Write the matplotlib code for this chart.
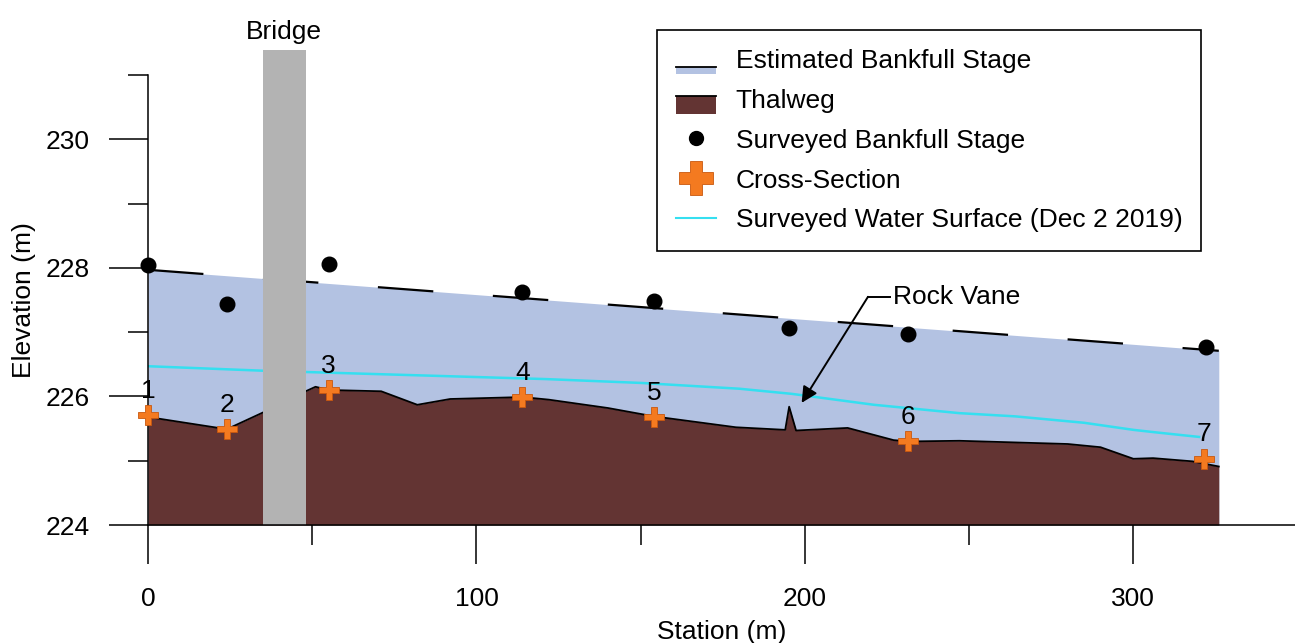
import matplotlib
matplotlib.use("Agg")
import matplotlib.pyplot as plt
from matplotlib.legend_handler import HandlerBase
from matplotlib.lines import Line2D
from matplotlib.patches import Patch, Rectangle

plt.rcParams["font.family"] = ["Liberation Sans", "DejaVu Sans"]
plt.rcParams["lines.scale_dashes"] = False

# longitudinal profile data (station in m, elevation in m)
BANKFULL_STATION = [0, 326]
BANKFULL_ELEV = [227.97, 226.71]

THALWEG_STATION = [0, 24, 35, 48, 51, 55, 71, 82, 92, 114, 122, 140, 154, 179,
                   194, 195.2, 197.3, 213, 227, 232, 247, 280, 290, 300, 306,
                   318, 326]
THALWEG_ELEV = [225.68, 225.49, 225.75, 226.08, 226.15, 226.10, 226.08, 225.87,
                225.96, 225.99, 225.95, 225.82, 225.69, 225.52, 225.48, 225.84,
                225.47, 225.51, 225.32, 225.30, 225.31, 225.26, 225.21, 225.03,
                225.04, 224.99, 224.91]

WATER_STATION = [0, 35, 48, 121, 150, 180, 196, 221, 247, 264, 285, 300, 307, 320]
WATER_ELEV = [226.47, 226.40, 226.38, 226.27, 226.21, 226.12, 226.04, 225.87,
              225.74, 225.69, 225.59, 225.48, 225.44, 225.37]

SURVEY_STATION = [0, 24, 55, 114, 154, 195, 231.5, 322]
SURVEY_ELEV = [228.04, 227.44, 228.06, 227.62, 227.48, 227.06, 226.97, 226.77]

XS_STATION = [0, 24, 55, 114, 154, 231.5, 321.5]
XS_ELEV = [225.71, 225.49, 226.10, 225.99, 225.68, 225.30, 225.03]
XS_LABELS = ["1", "2", "3", "4", "5", "6", "7"]

BRIDGE_START, BRIDGE_END, BRIDGE_TOP = 35, 48, 231.39
ROCK_VANE_STATION = 199.0
ROCK_VANE_ELEV = 225.90

BLUE = "#b3c2e2"
BROWN = "#633433"
CYAN = "#35dff0"
ORANGE = "#f47a20"
GRAY = "#b3b3b3"
FS = 19


class TopLineHandler(HandlerBase):
    """Filled box with a black line along its top edge."""

    def __init__(self, frac):
        super().__init__()
        self.frac = frac

    def create_artists(self, legend, orig_handle, xdescent, ydescent,
                       width, height, fontsize, trans):
        y0 = -ydescent - 0.35 * height
        h = height * self.frac
        rect = Rectangle((-xdescent, y0), width, h,
                         facecolor=orig_handle.get_facecolor(),
                         edgecolor="none", transform=trans)
        line = Line2D([-xdescent, -xdescent + width], [y0 + h, y0 + h],
                      color="black", lw=1.3, transform=trans)
        return [rect, line]


fig = plt.figure(figsize=(12.95, 6.43), dpi=100)
ax = fig.add_axes([148 / 1295, 118 / 643, 1147 / 1295, 450 / 643])

ax.fill_between(BANKFULL_STATION, BANKFULL_ELEV, 224, color=BLUE, lw=0, zorder=1)
ax.fill_between(THALWEG_STATION, THALWEG_ELEV, 224, color=BROWN, lw=0, zorder=1.2)
ax.plot(THALWEG_STATION, THALWEG_ELEV, color="black", lw=1.3, zorder=1.3)
ax.plot(WATER_STATION, WATER_ELEV, color=CYAN, lw=1.8, zorder=1.4)
ax.plot(BANKFULL_STATION, BANKFULL_ELEV, color="black", lw=1.6,
        dashes=(40, 43), dash_capstyle="butt", zorder=1.5)

ax.add_patch(Rectangle((BRIDGE_START, 224), BRIDGE_END - BRIDGE_START,
                       BRIDGE_TOP - 224, facecolor=GRAY, edgecolor="none",
                       zorder=2, clip_on=False))
ax.text((BRIDGE_START + BRIDGE_END) / 2, BRIDGE_TOP + 0.28, "Bridge",
        ha="center", va="center", fontsize=FS, clip_on=False)

ax.plot(SURVEY_STATION, SURVEY_ELEV, "o", color="black", ms=10.5, zorder=3,
        clip_on=False)
ax.plot(XS_STATION, XS_ELEV, "P", color=ORANGE, mec="#c8580f", mew=0.6,
        ms=14, zorder=3, clip_on=False)
for st, el, lab in zip(XS_STATION, XS_ELEV, XS_LABELS):
    ax.annotate(lab, (st, el), xytext=(0, 17.5), textcoords="offset points",
                ha="center", va="center", fontsize=FS, zorder=4)

# rock vane callout: text, short leader, then arrow down to the spike
ax.text(226.8, 227.55, "Rock Vane", ha="left", va="center", fontsize=FS)
ax.plot([219.2, 226.0], [227.55, 227.55], color="black", lw=1.4, zorder=4)
ax.annotate("", xy=(ROCK_VANE_STATION, ROCK_VANE_ELEV), xytext=(219.2, 227.55),
            arrowprops=dict(arrowstyle="-|>", color="black", lw=1.4,
                            mutation_scale=24, shrinkA=0, shrinkB=0),
            zorder=4)

ax.set_xlim(0, 349.2)
ax.set_ylim(224, 231)
ax.set_xticks([0, 100, 200, 300])
ax.set_xticks([50, 150, 250], minor=True)
ax.set_yticks([224, 226, 228, 230])
ax.set_yticks([225, 227, 229, 231], minor=True)
ax.tick_params(which="major", length=28, width=1.1, labelsize=FS)
ax.tick_params(which="minor", length=14.4, width=1.1)
ax.tick_params(axis="y", which="major", pad=14)
ax.tick_params(axis="x", which="major", pad=17)
for side in ("top", "right"):
    ax.spines[side].set_visible(False)
for side in ("left", "bottom"):
    ax.spines[side].set_linewidth(1.1)

ax.set_xlabel("Station (m)", fontsize=FS, va="top")
ax.xaxis.set_label_coords(0.5, -0.211)
ax.set_ylabel("Elevation (m)", fontsize=FS)
ax.yaxis.set_label_coords(-0.0976, 0.5)

h_bank = Patch(facecolor=BLUE)
h_thal = Patch(facecolor=BROWN)
h_dot = Line2D([], [], ls="none", marker="o", color="black", ms=10)
h_xs = Line2D([], [], ls="none", marker="P", color=ORANGE, mec="#c8580f",
              mew=0.6, ms=25)
h_ws = Line2D([], [], color=CYAN, lw=1.5)
leg = ax.legend(
    [h_bank, h_thal, h_dot, h_xs, h_ws],
    ["Estimated Bankfull Stage", "Thalweg", "Surveyed Bankfull Stage",
     "Cross-Section", "Surveyed Water Surface (Dec 2 2019)"],
    handler_map={h_bank: TopLineHandler(0.38), h_thal: TopLineHandler(1.0)},
    loc="upper left", bbox_to_anchor=(657 / 1295, 1 - 30 / 643),
    bbox_transform=fig.transFigure, borderaxespad=0, fontsize=FS,
    frameon=True, fancybox=False, framealpha=1, edgecolor="black",
    handlelength=1.5, handletextpad=0.76, borderpad=0.72, labelspacing=0.6,
)
leg.get_frame().set_linewidth(1.2)
leg.set_zorder(5)

fig.savefig("out.png", dpi=100)
